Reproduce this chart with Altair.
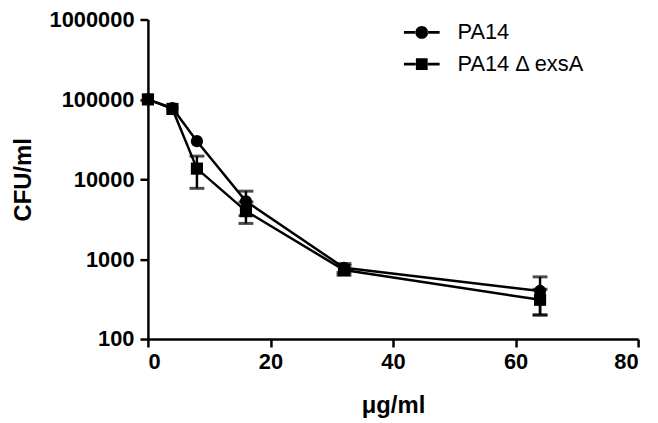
import altair as alt
import pandas as pd

# data
conc = [0, 4, 8, 16, 32, 64]
series_names = ["PA14", "PA14 \u0394 exsA"]
pa14 = [100000, 78000, 30000, 5300, 780, 400]
pa14_err = [0, 0, 0, 1800, 100, 200]
exsa = [100000, 76000, 13600, 4000, 730, 310]
exsa_err = [0, 0, 5900, 1200, 100, 110]

rows = []
for name, vals, errs in [(series_names[0], pa14, pa14_err), (series_names[1], exsa, exsa_err)]:
    for x, v, e in zip(conc, vals, errs):
        rows.append({"x": x, "y": v, "lo": v - e, "hi": v + e, "series": name, "has_err": e > 0})
df = pd.DataFrame(rows)
err_df = df[df["has_err"]]

FONT = "Liberation Sans"
xs = alt.Scale(domain=[0, 80], nice=False, zero=False)
ys = alt.Scale(type="log", domain=[100, 1000000], nice=False)

xenc = alt.X("x:Q", scale=xs, title="\u03bcg/ml",
             axis=alt.Axis(values=[0, 20, 40, 60, 80], format="d"))
yenc = alt.Y("y:Q", scale=ys, title="CFU/ml",
             axis=alt.Axis(values=[100, 1000, 10000, 100000, 1000000], format="d"))

base = alt.Chart(df)

lines = base.mark_line(color="black", strokeWidth=2.5).encode(
    x=xenc, y=yenc, detail="series:N"
)

rules = alt.Chart(err_df).mark_rule(color="black", strokeWidth=2.5).encode(
    x="x:Q", y="lo:Q", y2="hi:Q"
)
caps_lo = alt.Chart(err_df).mark_tick(color="black", orient="horizontal", size=15, thickness=3).encode(
    x="x:Q", y="lo:Q"
)
caps_hi = alt.Chart(err_df).mark_tick(color="black", orient="horizontal", size=15, thickness=3).encode(
    x="x:Q", y="hi:Q"
)

points = base.mark_point(filled=True, color="black", opacity=1, size=150).encode(
    x="x:Q", y="y:Q",
    shape=alt.Shape("series:N", scale=alt.Scale(domain=series_names, range=["circle", "square"]), legend=None),
)

bars = "M-1,-0.08H-0.34V0.08H-1ZM0.34,-0.08H1V0.08H0.34Z"
legend_paths = [
    bars + "M-0.36,0A0.36,0.36 0 1,0 0.36,0A0.36,0.36 0 1,0 -0.36,0Z",
    bars + "M-0.33,-0.33H0.33V0.33H-0.33Z",
]
legend_layer = base.transform_filter("datum.x < 0").mark_point(
    filled=True, color="black", opacity=1, size=1296
).encode(
    x="x:Q", y="y:Q",
    shape=alt.Shape("series:N", scale=alt.Scale(domain=series_names, range=legend_paths),
                    legend=alt.Legend(title=None, orient="none", legendX=258, legendY=-5,
                                      labelFont=FONT, labelFontSize=22, labelColor="black",
                                      labelOffset=18, rowPadding=3, padding=0,
                                      symbolSize=1296, symbolFillColor="black",
                                      symbolStrokeWidth=0, symbolOpacity=1)),
)

chart = alt.layer(lines, rules, caps_lo, caps_hi, points, legend_layer).resolve_scale(
    shape="independent"
).properties(
    width=494, height=322,
    autosize=alt.AutoSizeParams(type="none"),
    padding={"left": 141, "top": 10, "right": 12, "bottom": 82},
).configure_view(stroke=None).configure_axis(
    grid=False, domainColor="black", domainWidth=2.5, tickColor="black", tickWidth=2.5,
    tickSize=8, labelFont=FONT, labelFontSize=22, labelFontWeight="bold", labelColor="black",
    titleFont=FONT, titleFontSize=24, titleFontWeight="bold", titleColor="black",
).configure_axisY(labelPadding=6, titlePadding=14).configure_axisX(labelPadding=5, titlePadding=21)

chart.save("out.html", embed_options={"renderer": "svg", "actions": False})
